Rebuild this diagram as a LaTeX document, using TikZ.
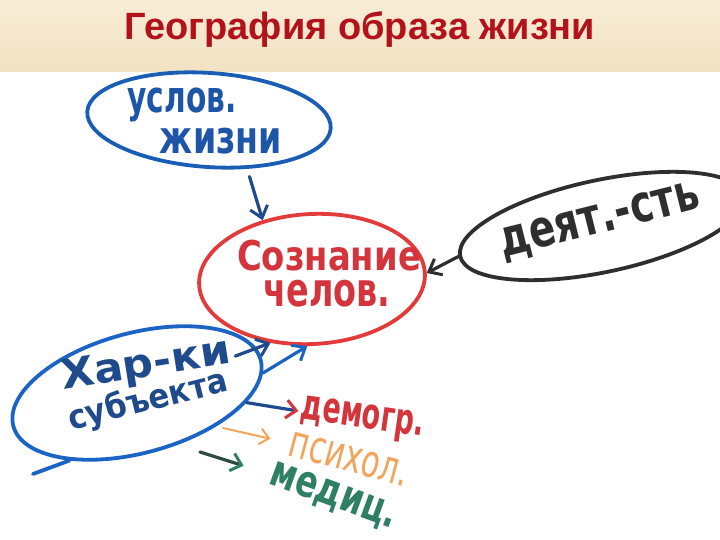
\documentclass[tikz,border=0pt]{standalone}
\usepackage{fontspec}
\setmainfont{Liberation Sans}
\newfontfamily\hand{DejaVu Sans}
\usetikzlibrary{shapes.geometric,arrows.meta}
\definecolor{titlered}{HTML}{B3121B}
\definecolor{bandtop}{HTML}{F8EDD6}
\definecolor{bandbot}{HTML}{F1E2C2}
\definecolor{mblue}{HTML}{1A5DB4}
\definecolor{tblue}{HTML}{1D55A8}
\definecolor{dblue}{HTML}{1B63C4}
\definecolor{navy}{HTML}{1F4A8C}
\definecolor{mred}{HTML}{E23B3B}
\definecolor{tred}{HTML}{D4343C}
\definecolor{mblack}{HTML}{2E2E2E}
\definecolor{morange}{HTML}{F2A45A}
\definecolor{mgreen}{HTML}{2F8063}
\definecolor{dgreen}{HTML}{2D4A40}
\newcommand\fitwh[3]{\resizebox*{#1pt}{#2pt}{#3}}
\begin{document}
\begin{tikzpicture}[x=1pt,y=-1pt,
  oval/.style={draw,ellipse,line width=3.8pt,inner sep=0pt},
  hw/.style={font=\hand\bfseries,inner sep=0pt,anchor=center},
  marr/.style={line width=3.2pt,line cap=round,-{Straight Barb[length=11pt,width=18pt,line width=3pt]}},
  thinarr/.style={line width=2pt,line cap=round,-{Straight Barb[length=9pt,width=16pt,line width=2pt]}}]
\useasboundingbox (0,0) rectangle (720,540);
\fill[white] (0,0) rectangle (720,540);
\shade[top color=bandtop,bottom color=bandbot] (0,0) rectangle (720,72);
\node[font=\bfseries\fontsize{38}{42}\selectfont,text=titlered,inner sep=0pt,anchor=base] (title) at (360,40) {География образа жизни};

\node[oval,draw=mblue,minimum width=244,minimum height=94,rotate=-4] (A) at (209,120) {};
\node[oval,draw=mred,minimum width=226,minimum height=130,rotate=3] (B) at (312,279) {};
\node[oval,draw=mblack,minimum width=290,minimum height=92,rotate=12] (C) at (602,226) {};
\node[oval,draw=dblue,minimum width=256,minimum height=120,rotate=15] (D) at (137,393) {};
\coordinate (dtail) at (33,474);
\draw[dblue,line width=3.8pt,line cap=round] (D.-150) -- (dtail);

\node[hw,text=tblue] (a1) at (182,105) {\fitwh{109}{34}{услов.}};
\node[hw,text=tblue] (a2) at (221,141) {\fitwh{122}{26}{жизни}};
\node[hw,text=tred] (b1) at (329,256) {\fitwh{184}{31}{Сознание}};
\node[hw,text=tred] (b2) at (327,294) {\fitwh{127}{27}{челов.}};
\node[hw,text=mblack,rotate=14] (c1) at (600,222) {\fitwh{205}{36}{деят.-сть}};
\node[hw,text=navy,rotate=9] (d1) at (146,366) {\fitwh{171}{38}{Хар-ки}};
\node[hw,text=navy,rotate=14] (d2) at (148,401) {\fitwh{163}{34}{субъекта}};
\node[hw,text=tred,rotate=-8] (e1) at (362,420) {\fitwh{124}{33}{демогр.}};
\node[hw,text=morange,rotate=-15,font=\hand] (e2) at (349,459) {\fitwh{122}{26}{психол.}};
\node[hw,text=mgreen,rotate=-20] (e3) at (333,497) {\fitwh{133}{31}{медиц.}};

\coordinate (o0) at (223,428);
\coordinate (g0) at (200,452);

\draw[marr,navy,shorten <=8pt] (A.-48) -- (B.127);
\draw[marr,mblack] (C.west) -- (B.east);
\draw[marr,navy,shorten <=105pt] (D.center) -- (B.-126);
\draw[marr,dblue] (D.-6) -- (B.-97);
\draw[line width=3.2pt,line cap=round,navy,-{Straight Barb[color=tred,length=10pt,width=18pt,line width=3pt]},shorten >=2pt] (D.-20) -- (e1.west);
\draw[thinarr,morange,shorten >=20pt] (o0) -- (e2.west);
\draw[line width=3.2pt,line cap=round,dgreen,-{Straight Barb[color=mgreen,length=10pt,width=18pt,line width=3pt]},shorten >=28pt] (g0) -- (e3.west);
\end{tikzpicture}
\end{document}
